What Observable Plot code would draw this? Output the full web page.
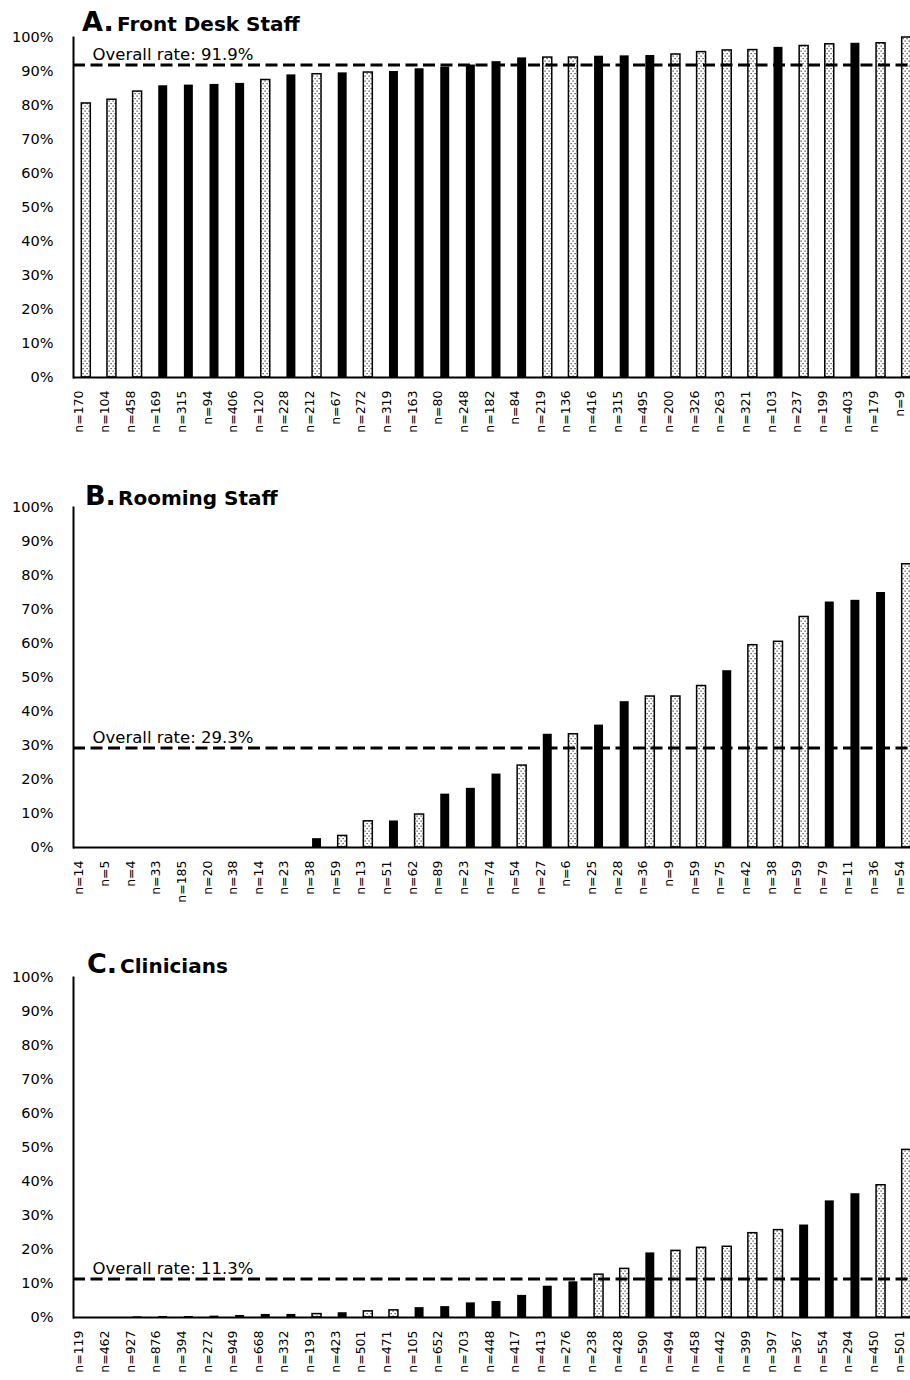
<!DOCTYPE html>
<html><head><meta charset="utf-8">
<script src="https://cdn.jsdelivr.net/npm/d3@7"></script>
<script src="https://cdn.jsdelivr.net/npm/@observablehq/plot@0.6"></script>
<style>
html,body{margin:0;padding:0;background:#fff;overflow:hidden;width:910px;}
.panel{position:relative;width:910px;height:470px;overflow:hidden;}
.ltr{position:absolute;font-family:"DejaVu Sans";font-weight:bold;font-size:27px;line-height:27px;color:#000;white-space:nowrap;}
.ttl{position:absolute;font-family:"DejaVu Sans";font-weight:bold;font-size:20px;line-height:20px;color:#000;white-space:nowrap;}
</style></head><body>
<svg width="0" height="0" style="position:absolute"><defs>
<pattern id="dots" width="4" height="5" patternUnits="userSpaceOnUse">
<rect width="4" height="5" fill="#fff"/><rect x="0.5" y="0.5" width="1.2" height="1.2" fill="#333"/><rect x="2.5" y="3" width="1.2" height="1.2" fill="#333"/>
</pattern></defs></svg>
<div id="chart"></div>
<script>
// Panel A: Front Desk Staff
const nA = [170,104,458,169,315,94,406,120,228,212,67,272,319,163,80,248,182,84,219,136,416,315,495,200,326,263,321,103,237,199,403,179,9];
const rateA = [80.6,81.7,84.1,85.8,86.0,86.2,86.5,87.5,89.0,89.2,89.6,89.7,90.0,90.8,91.3,91.9,92.9,94.0,94.1,94.1,94.5,94.6,94.7,95.0,95.7,96.2,96.3,97.1,97.5,98.0,98.3,98.3,100];
const kindA = ["d","d","d","s","s","s","s","d","s","d","s","d","s","s","s","s","s","s","d","d","s","s","s","d","d","d","d","s","d","d","s","d","d"];
const overallA = 91.9;

// Panel B: Rooming Staff
const nB = [14,5,4,33,185,20,38,14,23,38,59,13,51,62,89,23,74,54,27,6,25,28,36,9,59,75,42,38,59,79,11,36,54];
const rateB = [0,0,0,0,0,0,0,0,0,2.6,3.4,7.7,7.8,9.7,15.7,17.4,21.6,24.1,33.3,33.3,36.0,42.9,44.4,44.4,47.5,52.0,59.5,60.5,67.8,72.2,72.7,75.0,83.3];
const kindB = ["s","s","s","s","s","s","s","s","s","s","d","d","s","d","s","s","s","d","s","d","s","s","d","d","d","s","d","d","d","s","s","s","d"];
const overallB = 29.3;

// Panel C: Clinicians
const nC = [119,462,927,876,394,272,949,668,332,193,423,501,471,105,652,703,448,417,413,276,238,428,590,494,458,442,399,397,367,554,294,450,501];
const rateC = [0,0,0.2,0.3,0.3,0.4,0.6,0.9,0.9,1.0,1.4,1.8,2.1,2.9,3.2,4.3,4.7,6.5,9.2,10.5,12.6,14.3,19.0,19.6,20.5,20.8,24.8,25.7,27.2,34.3,36.4,38.9,49.3];
const kindC = ["s","s","s","s","s","s","s","s","s","d","s","d","d","s","s","s","s","s","s","s","d","d","s","d","d","d","d","d","s","s","s","d","d"];
const overallC = 11.3;

const yTicks = [0,0.1,0.2,0.3,0.4,0.5,0.6,0.7,0.8,0.9,1];

function panel(letter, title, ns, rates, kinds, overall, baseTop) {
  const wrap = document.createElement("div");
  wrap.className = "panel";
  const data = ns.map((n, i) => ({i, n, v: rates[i] / 100, k: kinds[i]}));
  const plot = Plot.plot({
    width: 910, height: 470,
    marginLeft: 73, marginRight: 0, marginTop: 37, marginBottom: 93,
    style: {fontFamily: "DejaVu Sans", background: "#fff", color: "#000"},
    x: {type: "band", domain: d3.range(ns.length), range: [73, 919], round: false, paddingInner: 0.65, paddingOuter: 0.325},
    y: {domain: [0, 1]},
    marks: [
      Plot.barY(data.filter(d => d.k === "s"), {x: "i", y: "v", fill: "#000"}),
      Plot.barY(data.filter(d => d.k === "d"), {x: "i", y: "v", fill: "url(#dots)", stroke: "#000", strokeWidth: 1.5}),
      Plot.ruleY([overall / 100], {stroke: "#000", strokeWidth: 3, strokeDasharray: "12,5.5"}),
      Plot.text([overall], {y: d => d / 100, frameAnchor: "left", text: d => `Overall rate: ${d.toFixed(1)}%`, textAnchor: "start", lineAnchor: "bottom", dx: 19, dy: -5, fontSize: 16.5, fill: "#000"}),
      Plot.ruleY([0], {stroke: "#000", strokeWidth: 2}),
      Plot.frame({anchor: "left", stroke: "#000", strokeWidth: 2}),
      Plot.axisY({ticks: yTicks, tickFormat: d3.format(".0%"), tickSize: 0, tickPadding: 20, fontSize: 14.5, label: null, fill: "#000"}),
      Plot.axisX({tickFormat: i => "n=" + ns[i], tickRotate: -90, tickSize: 0, tickPadding: 13, fontSize: 12.5, label: null, dx: -7, fill: "#000"})
    ]
  });
  wrap.appendChild(plot);
  const l = document.createElement("div");
  l.className = "ltr"; l.textContent = letter;
  l.style.left = (letter === "A." ? 82 : letter === "B." ? 85 : 87) + "px";
  l.style.top = (baseTop - 22.8) + "px";
  const t = document.createElement("div");
  t.className = "ttl"; t.textContent = title;
  t.style.left = (letter === "A." ? 117 : letter === "B." ? 118 : 120) + "px";
  t.style.top = (baseTop - 16.9) + "px";
  wrap.appendChild(l); wrap.appendChild(t);
  return wrap;
}

const root = document.getElementById("chart");
root.appendChild(panel("A.", "Front Desk Staff", nA, rateA, kindA, overallA, 31));
root.appendChild(panel("B.", "Rooming Staff", nB, rateB, kindB, overallB, 35));
root.appendChild(panel("C.", "Clinicians", nC, rateC, kindC, overallC, 33));
</script>
</body></html>
